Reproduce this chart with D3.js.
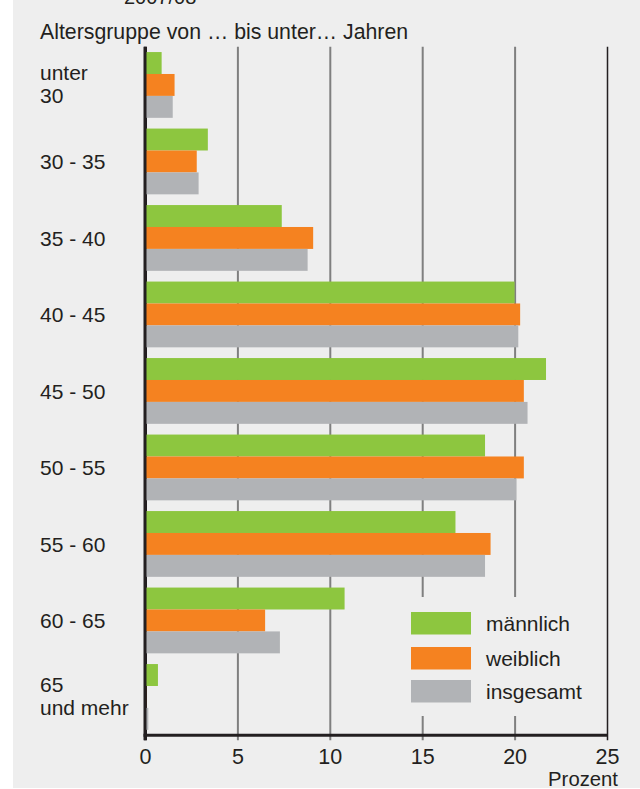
<!DOCTYPE html>
<meta charset="utf-8">
<style>
body { margin: 0; background: #fff; }
svg { font-family: "Liberation Sans", Arial, Helvetica, sans-serif; fill: #231f20; }
.cat-label, .legend-label { font-size: 21px; }
.tick text { font-size: 21.5px; fill: #231f20; }
</style>
<body>
<script src="https://d3js.org/d3.v7.min.js"></script>
<script>

var categories = ["unter|30", "30 - 35", "35 - 40", "40 - 45", "45 - 50", "50 - 55", "55 - 60", "60 - 65", "65|und mehr"];
var maennlich = [0.9, 3.4, 7.4, 20.0, 21.7, 18.4, 16.8, 10.8, 0.7];
var weiblich  = [1.6, 2.8, 9.1, 20.3, 20.5, 20.5, 18.7, 6.5, 0.06];
var insgesamt = [1.5, 2.9, 8.8, 20.2, 20.7, 20.1, 18.4, 7.3, 0.18];
var seriesNames = ["männlich", "weiblich", "insgesamt"];
var xTicks = [0, 5, 10, 15, 20, 25];

var width = 640, height = 789,
    plotLeft = 145, plotRight = 607,
    plotTop = 46.7, plotBottom = 735.2,
    colors = ["#8dc63f", "#f58220", "#b1b3b6"],
    ink = "#231f20";

var series = [maennlich, weiblich, insgesamt];

var x = d3.scaleLinear().domain([0, 25]).range([plotLeft, plotRight]);
var y = d3.scaleBand().domain(categories).range([plotTop, plotBottom])
    .paddingInner(0.14).paddingOuter(0.07);
var ySub = d3.scaleBand().domain(d3.range(series.length)).range([0, y.bandwidth()]);

var svg = d3.select("body").append("svg")
    .attr("width", width)
    .attr("height", height);

// panel background
svg.append("rect")
    .attr("x", 13).attr("y", 0)
    .attr("width", width - 13).attr("height", 788)
    .attr("fill", "#eeeeee");

// cut-off heading at the very top
svg.append("text")
    .attr("x", 124).attr("y", 4)
    .style("font-size", "20px")
    .text("2007/08");

svg.append("text")
    .attr("x", 40).attr("y", 39)
    .style("font-size", "21.3px")
    .text("Altersgruppe von … bis unter… Jahren");

// grid + ticks via axis
var axisY = plotBottom + 5;
var axis = svg.append("g")
    .attr("transform", "translate(0," + axisY + ")")
    .call(d3.axisBottom(x).tickValues(xTicks)
        .tickSizeInner(-(axisY - plotTop))
        .tickSizeOuter(0)
        .tickPadding(8.5));
axis.select(".domain").remove();
axis.selectAll(".tick line")
    .attr("stroke", function(d) { return d === 0 || d === 25 ? ink : "#7f7f7f"; })
    .attr("stroke-width", function(d) { return d === 0 ? 3 : (d === 25 ? 1.5 : 2); });
axis.selectAll(".tick text").attr("fill", ink);

// legend box hides the grid behind it
svg.append("rect")
    .attr("x", 398).attr("y", 597)
    .attr("width", 200).attr("height", 119)
    .attr("fill", "#eeeeee");

// bars
var groups = svg.append("g").selectAll("g")
    .data(categories).enter()
    .append("g")
    .attr("transform", function(d) { return "translate(0," + y(d) + ")"; });

groups.selectAll("rect")
    .data(function(d, i) { return series.map(function(s, k) { return { k: k, v: s[i] }; }); })
    .enter().append("rect")
    .attr("x", x(0))
    .attr("y", function(d) { return ySub(d.k); })
    .attr("width", function(d) { return x(d.v) - x(0); })
    .attr("height", ySub.bandwidth())
    .attr("fill", function(d) { return colors[d.k]; });

// axis lines on top of bars
svg.append("line")
    .attr("x1", x(0)).attr("x2", x(0))
    .attr("y1", plotTop).attr("y2", axisY)
    .attr("stroke", ink).attr("stroke-width", 3);
svg.append("line")
    .attr("x1", x(0) - 1.5).attr("x2", x(25))
    .attr("y1", plotBottom).attr("y2", plotBottom)
    .attr("stroke", ink).attr("stroke-width", 3);

// category labels
svg.selectAll(".cat-label")
    .data(categories).enter()
    .append("text")
    .attr("class", "cat-label")
    .attr("x", 40)
    .attr("y", function(d) {
        var c = y(d) + y.bandwidth() / 2;
        return d.indexOf("|") >= 0 ? c - 5 : c + 7.8;
    })
    .each(function(d) {
        var parts = d.split("|");
        var t = d3.select(this);
        parts.forEach(function(p, i) {
            t.append("tspan").attr("x", 40).attr("dy", i === 0 ? 0 : 23.5).text(p);
        });
    });

svg.append("text")
    .attr("x", 618).attr("y", 785.5)
    .attr("text-anchor", "end")
    .style("font-size", "20.3px")
    .text("Prozent");

// legend
var legendTop = [612, 647, 680];
var legend = svg.append("g").selectAll("g")
    .data(seriesNames).enter()
    .append("g")
    .attr("transform", function(d, i) { return "translate(411," + legendTop[i] + ")"; });
legend.append("rect")
    .attr("width", 60).attr("height", 22.5)
    .attr("fill", function(d, i) { return colors[i]; });
legend.append("text")
    .attr("class", "legend-label")
    .attr("x", 75).attr("y", 18.5)
    .text(function(d) { return d; });

</script>
</body>
